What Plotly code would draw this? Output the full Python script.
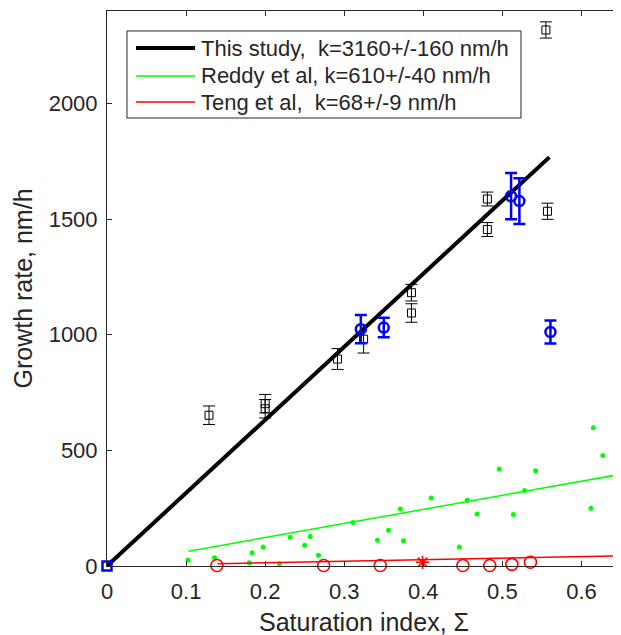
import plotly.graph_objects as go

# ---------------- data ----------------
# This study (black squares with error bars)
study_x = [0.129, 0.200, 0.200, 0.2915, 0.3245, 0.385, 0.385, 0.481, 0.481, 0.557, 0.555]
study_y = [652, 680, 702, 895, 981, 1094, 1182, 1455, 1587, 1534, 2318]
study_err = [40, 40, 40, 45, 60, 40, 36, 30, 30, 35, 35]

# This study (blue circles with error bars)
blue_x = [0.321, 0.350, 0.511, 0.5215, 0.5608]
blue_y = [1024, 1031, 1599, 1578, 1012]
blue_err = [61, 42, 100, 99, 50]
origin_x = [0.0]
origin_y = [0.0]

# Reddy et al. (green dots)
reddy_x = [0.1025, 0.136, 0.180, 0.1835, 0.1975, 0.218, 0.2317, 0.250, 0.257, 0.2675,
           0.311, 0.342, 0.356, 0.371, 0.375, 0.410, 0.4456, 0.4557, 0.468, 0.496,
           0.514, 0.528, 0.542, 0.612, 0.615, 0.627]
reddy_y = [26, 36, 14, 57, 82, 10, 124, 90, 128, 47,
           188, 111, 155, 246, 109, 294, 82, 284, 225, 420,
           223, 326, 412, 250, 598, 478]

# Teng et al. (red circles and star)
teng_x = [0.139, 0.274, 0.3456, 0.450, 0.484, 0.512, 0.5355]
teng_y = [2, 2, 2, 2, 2, 7, 16]
teng_star_x = [0.399]
teng_star_y = [16]

# Fitted lines (end points)
study_fit_x = [0.0, 0.5595]
study_fit_y = [0, 1768]
reddy_fit_x = [0.103, 0.65]
reddy_fit_y = [64, 397]
teng_fit_x = [0.14, 0.65]
teng_fit_y = [10, 44]

legend_names = ["This study,  k=3160+/-160 nm/h",
                "Reddy et al, k=610+/-40 nm/h",
                "Teng et al,  k=68+/-9 nm/h"]
legend_colors = ["black", "#00ff00", "#ff0000"]
legend_widths = [4, 1.5, 1.5]

x_ticks = [0, 0.1, 0.2, 0.3, 0.4, 0.5, 0.6]
x_tick_text = ["0", "0.1", "0.2", "0.3", "0.4", "0.5", "0.6"]
y_ticks = [0, 500, 1000, 1500, 2000]
y_tick_text = ["0", "500", "1000", "1500", "2000"]

# ---------------- figure ----------------
FONT = "Liberation Sans, Arial, Helvetica, sans-serif"
TXT = "#262626"

fig = go.Figure()

fig.add_trace(go.Scatter(x=reddy_x, y=reddy_y, mode="markers",
                         marker=dict(color="#00ff00", size=5),
                         showlegend=False, cliponaxis=False))
fig.add_trace(go.Scatter(x=teng_x, y=teng_y, mode="markers",
                         marker=dict(symbol="circle-open", color="#ff0000", size=12,
                                     line=dict(width=1.6, color="#ff0000")),
                         showlegend=False, cliponaxis=False))
fig.add_trace(go.Scatter(x=teng_star_x, y=teng_star_y, mode="markers",
                         marker=dict(symbol="asterisk-open", color="#ff0000", size=11,
                                     line=dict(width=1.6, color="#ff0000")),
                         showlegend=False, cliponaxis=False))

fig.add_trace(go.Scatter(x=study_fit_x, y=study_fit_y, mode="lines",
                         line=dict(color=legend_colors[0], width=legend_widths[0]),
                         name=legend_names[0], showlegend=False))
fig.add_trace(go.Scatter(x=reddy_fit_x, y=reddy_fit_y, mode="lines",
                         line=dict(color=legend_colors[1], width=legend_widths[1]),
                         name=legend_names[1], showlegend=False))
fig.add_trace(go.Scatter(x=teng_fit_x, y=teng_fit_y, mode="lines",
                         line=dict(color=legend_colors[2], width=legend_widths[2]),
                         name=legend_names[2], showlegend=False))

fig.add_trace(go.Scatter(x=study_x, y=study_y, mode="markers",
                         marker=dict(symbol="square-open", color="black", size=8,
                                     line=dict(width=1, color="black")),
                         error_y=dict(type="data", array=study_err, color="black",
                                      thickness=1, width=6),
                         showlegend=False, cliponaxis=False))

fig.add_trace(go.Scatter(x=blue_x, y=blue_y, mode="markers",
                         marker=dict(symbol="circle-open", color="#0000ff", size=10,
                                     line=dict(width=2.5, color="#0000ff")),
                         error_y=dict(type="data", array=blue_err, color="#0000ff",
                                      thickness=2.5, width=6),
                         showlegend=False, cliponaxis=False))
fig.add_trace(go.Scatter(x=origin_x, y=origin_y, mode="markers",
                         marker=dict(symbol="square-open", color="#0000ff", size=9,
                                     line=dict(width=2.5, color="#0000ff")),
                         showlegend=False, cliponaxis=False))

# ---- custom legend (MATLAB style box) ----
box_x0, box_x1, box_y0, box_y1 = 0.0389, 0.8054, 0.8072, 0.9640
row_y = [0.9333, 0.8829, 0.8360]
line_x0, line_x1, text_x = 0.0564, 0.1712, 0.179
fig.add_shape(type="rect", xref="paper", yref="paper",
              x0=box_x0, x1=box_x1, y0=box_y0, y1=box_y1,
              fillcolor="white", line=dict(color=TXT, width=1), layer="above")
for name, col, w, ry in zip(legend_names, legend_colors, legend_widths, row_y):
    fig.add_shape(type="line", xref="paper", yref="paper",
                  x0=line_x0, x1=line_x1, y0=ry, y1=ry,
                  line=dict(color=col, width=w), layer="above")
    fig.add_annotation(xref="paper", yref="paper", x=text_x, y=ry,
                       xanchor="left", yanchor="middle", showarrow=False,
                       text=name.replace("  ", "&nbsp; "),
                       font=dict(family=FONT, size=22, color=TXT))

axis_common = dict(showgrid=False, zeroline=False, showline=True, linecolor=TXT,
                   linewidth=1, mirror="ticks", ticks="inside", ticklen=5,
                   tickcolor=TXT, automargin=False,
                   tickfont=dict(family=FONT, size=22, color=TXT))

fig.update_xaxes(range=[0, 0.65], tickvals=x_ticks, ticktext=x_tick_text,
                 ticklabelstandoff=6,
                 title=dict(text="Saturation index, Σ", font=dict(family=FONT, size=25, color=TXT),
                            standoff=10),
                 **axis_common)
fig.update_yaxes(range=[0, 2400], tickvals=y_ticks, ticktext=y_tick_text,
                 ticklabelstandoff=4,
                 title=dict(text="Growth rate, nm/h", font=dict(family=FONT, size=25, color=TXT),
                            standoff=8),
                 **axis_common)

# page body has an 8px margin; compensate so the axes land where the reference has them
fig.update_layout(
    width=621, height=635,
    margin=dict(l=99, r=8, t=3, b=77),
    plot_bgcolor="white", paper_bgcolor="white",
    font=dict(family=FONT, color=TXT),
    showlegend=False,
)

fig.write_html("out.html")
